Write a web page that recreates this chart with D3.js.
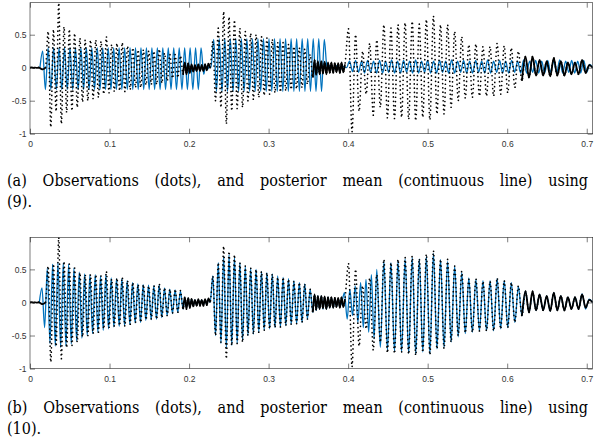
<!DOCTYPE html>
<html>
<head>
<meta charset="utf-8">
<script src="https://cdn.jsdelivr.net/npm/d3@7"></script>
<style>
  body { margin: 0; background: #fff; }
  svg { display: block; }
  .tick text { font-family: "Liberation Sans", Arial, sans-serif; font-size: 8.5px; fill: #333; }
  .tick line { stroke: #262626; stroke-width: 0.6; }
</style>
</head>
<body>
<svg id="chart" width="596" height="444"></svg>
<script>
/*
 * Observations (dots) and posterior mean (line), two panels.
 * Each series is stored as segments of alternating extrema; the values
 * of a segment are spread evenly between its start and end time.
 */

var xTicks = [0, 0.1, 0.2, 0.3, 0.4, 0.5, 0.6, 0.7];
var yTicks = [-1, -0.5, 0, 0.5];
var xDomain = [0, 0.7075];
var yDomain = [-1, 0.985];

// observations, shared by both panels
var obsStart = [0, 0.0195, 0.1925, 0.2265, 0.3556, 0.396, 0.6185];
var obsEnd = [0.0195, 0.1925, 0.2265, 0.3556, 0.396, 0.6185, 0.7075];
var obsDense = [1, 0, 1, 0, 1, 0, 1];

var obsSilence = [0, 0.004, -0.003, 0.002, -0.004, 0.003, -0.01, -0.025, -0.02, 0];
var obsVoiced1 = [0, 0.55, -0.9, 0.58, -0.66, 0.98, -0.85, 0.62, -0.68, 0.58, -0.65, 0.52, -0.6,
	0.45, -0.52, 0.42, -0.5, 0.42, -0.47, 0.42, -0.45, 0.4, -0.4, 0.47, -0.38, 0.35, -0.36,
	0.37, -0.35, 0.38, -0.36, 0.33, -0.33, 0.3, -0.3, 0.27, -0.3, 0.27, -0.26, 0.25, -0.25,
	0.25, -0.25, 0.28, -0.23, 0.22, -0.2, 0.2, -0.16, 0.2, -0.15, 0.18, -0.1];
var obsGap1 = [-0.1, 0.08, -0.1, 0.07, -0.08, 0.05, -0.06, 0.04, -0.05, 0.05, -0.05, 0.04, -0.05,
	0.05, -0.04, 0.06, 0];
var obsVoiced2 = [0, 0.4, -0.5, 0.6, -0.6, 0.85, -0.85, 0.77, -0.65, 0.72, -0.62, 0.6, -0.6, 0.55,
	-0.5, 0.52, -0.48, 0.5, -0.45, 0.47, -0.42, 0.45, -0.4, 0.43, -0.38, 0.38, -0.37, 0.38,
	-0.35, 0.35, -0.33, 0.32, -0.32, 0.3, -0.3, 0.28, -0.25, 0.2, -0.15];
var obsGap2 = [-0.15, 0.12, -0.11, 0.1, -0.1, 0.1, -0.09, 0.09, -0.1, 0.08, -0.08, 0.08, -0.08,
	0.07, -0.07, 0.07, -0.08, 0.08, -0.07, 0.05];
var obsVoiced3 = [0.05, 0.59, -0.97, 0.5, -0.66, 0.25, -0.4, 0.37, -0.72, 0.42, -0.6, 0.65, -0.76,
	0.6, -0.77, 0.65, -0.75, 0.68, -0.78, 0.7, -0.8, 0.66, -0.75, 0.73, -0.79, 0.78, -0.7,
	0.65, -0.7, 0.65, -0.6, 0.55, -0.5, 0.47, -0.46, 0.35, -0.45, 0.36, -0.43, 0.32, -0.43,
	0.32, -0.43, 0.37, -0.4, 0.33, -0.38, 0.3, -0.3, 0.25, -0.2];
var obsTail = [-0.2, 0.17, -0.15, 0.17, -0.12, 0.12, -0.12, 0.1, -0.13, 0.15, -0.12, 0.1, -0.12,
	0.08, -0.1, 0.08, -0.1, 0.12, -0.08, 0.04, 0];
var obsValues = [obsSilence, obsVoiced1, obsGap1, obsVoiced2, obsGap2, obsVoiced3, obsTail];

// posterior mean, panel (a)
var meanAStart = [0.0125, 0.2185, 0.2275, 0.3735, 0.398];
var meanAEnd = [0.2185, 0.2275, 0.3735, 0.398, 0.7075];
var meanA1 = [0, 0.25, -0.33,
	0.3, -0.33, 0.3, -0.33, 0.3, -0.33, 0.3, -0.33, 0.3, -0.33, 0.3, -0.33,
	0.3, -0.33, 0.3, -0.33, 0.3, -0.33, 0.3, -0.33, 0.3, -0.33,
	0.3, -0.33, 0.3, -0.33, 0.3, -0.33, 0.3, -0.33, 0.3, -0.33,
	0.3, -0.33, 0.3, -0.33, 0.3, -0.33, 0.3, -0.33, 0.3, -0.33,
	0.3, -0.33, 0.3, -0.33, 0.3, -0.33, 0.3, -0.33, 0.3, -0.33,
	0.3, -0.33, 0.3, -0.33, 0.3, -0.1];
var meanA2 = [-0.1, 0.03, -0.03, 0.02, 0];
var meanA3 = [0, 0.43, -0.36, 0.44, -0.36, 0.44, -0.36, 0.44, -0.36, 0.44, -0.36,
	0.44, -0.36, 0.44, -0.36, 0.44, -0.36, 0.44, -0.36, 0.44, -0.36,
	0.44, -0.36, 0.44, -0.36, 0.44, -0.36, 0.44, -0.36, 0.44, -0.36,
	0.44, -0.36, 0.44, -0.36, 0.44, -0.36, 0.44, -0.36, 0.44, -0.36,
	0.43, 0];
var meanA4 = [0, 0.03, -0.03, 0.03, -0.03, 0.02, 0];
var meanA5 = [0, 0.1, -0.06, 0.11, -0.07, 0.1, -0.08, 0.11, -0.07, 0.1, -0.08,
	0.11, -0.08, 0.1, -0.07, 0.12, -0.08, 0.1, -0.08, 0.11, -0.07,
	0.1, -0.08, 0.12, -0.08, 0.1, -0.07, 0.11, -0.08, 0.1, -0.08,
	0.11, -0.07, 0.1, -0.08, 0.12, -0.08, 0.1, -0.07, 0.11, -0.08,
	0.1, -0.08, 0.11, -0.07, 0.1, -0.08, 0.12, -0.08, 0.1, -0.07,
	0.11, -0.08, 0.1, -0.08, 0.11, -0.07, 0.1, -0.08, 0.12, -0.08,
	0.1, -0.07, 0.11, -0.08, 0.1, -0.08, 0.11, -0.07, 0.1, -0.08,
	0.12, -0.08, 0.1, -0.07, 0.11, -0.08, 0.1, -0.08, 0.11, -0.07,
	0.05, 0];
var meanAValues = [meanA1, meanA2, meanA3, meanA4, meanA5];

// posterior mean, panel (b)
var meanBStart = [0.0117, 0.1925, 0.2265, 0.3556, 0.392, 0.4405];
var meanBEnd = [0.1925, 0.2265, 0.3556, 0.392, 0.436, 0.7075];
var meanB1 = [0, 0.22, -0.38,
	0.52, -0.62, 0.58, -0.66, 0.6, -0.68, 0.6, -0.66, 0.58, -0.63, 0.52, -0.58,
	0.46, -0.54, 0.43, -0.5, 0.42, -0.47, 0.42, -0.45, 0.4, -0.42,
	0.42, -0.4, 0.37, -0.37, 0.36, -0.36, 0.36, -0.35, 0.33, -0.33,
	0.3, -0.31, 0.28, -0.3, 0.27, -0.27, 0.26, -0.26, 0.25, -0.25,
	0.26, -0.23, 0.22, -0.2, 0.2, -0.17, 0.19, -0.15, 0.17, -0.1];
var meanB2 = [-0.1, 0.06, -0.08, 0.06, -0.07, 0.05, -0.05, 0.04, -0.04, 0.04, -0.04, 0.04, -0.04,
	0.04, -0.03, 0.05, 0];
var meanB3 = [0, 0.4, -0.5, 0.6, -0.62, 0.7, -0.68, 0.72, -0.65, 0.68, -0.62, 0.6, -0.58, 0.55,
	-0.5, 0.52, -0.48, 0.5, -0.45, 0.47, -0.42, 0.45, -0.4, 0.43, -0.38, 0.4, -0.37, 0.38,
	-0.35, 0.36, -0.33, 0.33, -0.32, 0.3, -0.3, 0.28, -0.25, 0.2, -0.15];
var meanB4 = [-0.15, 0.12, -0.12, 0.1, -0.1, 0.1, -0.1, 0.08, -0.1, 0.08, -0.08, 0.07, -0.08,
	0.06, -0.06, 0.05, -0.05, 0];
var meanB5 = [0, 0.15, -0.25, 0.2, -0.2, 0.25, -0.3, 0.3, -0.38, 0.35, -0.45, 0.42, -0.55, 0.5];
var meanB6 = [-0.68, 0.62, -0.72, 0.6, -0.74, 0.63, -0.75, 0.66, -0.77, 0.68,
	-0.78, 0.66, -0.75, 0.7, -0.78, 0.74, -0.7, 0.65, -0.68, 0.62,
	-0.6, 0.55, -0.52, 0.45, -0.47, 0.37, -0.45, 0.35, -0.43, 0.33,
	-0.43, 0.33, -0.43, 0.36, -0.4, 0.33, -0.38, 0.3, -0.3, 0.24,
	-0.2,
	0.17, -0.15, 0.15, -0.12, 0.12, -0.12, 0.1, -0.13, 0.15, -0.12,
	0.1, -0.12, 0.08, -0.1, 0.08, -0.1, 0.13, -0.1, 0.05, 0];
var meanBValues = [meanB1, meanB2, meanB3, meanB4, meanB5, meanB6];

var captionA = ["(a) Observations (dots), and posterior mean (continuous line) using", "(9)."];
var captionB = ["(b) Observations (dots), and posterior mean (continuous line) using", "(10)."];

var serif = "'DejaVu Serif Condensed', 'DejaVu Serif', serif";

var svg = d3.select("#chart");

/* Spread the values of one segment evenly between its start and end time */
function segmentPoints(start, end, values) {
	var step = (end - start) / (values.length - 1);
	return values.map(function(v, i) { return [start + i * step, v]; });
}

/* Join all segments of a series into one list of points */
function seriesPoints(starts, ends, valueLists) {
	var pts = [];
	for (var k = 0; k < valueLists.length; k++) {
		segmentPoints(starts[k], ends[k], valueLists[k]).forEach(function(p) {
			if (pts.length && Math.abs(pts[pts.length - 1][0] - p[0]) < 1e-9) return;
			pts.push(p);
		});
	}
	return pts;
}

/* Draws one panel: box, ticks, mean line, observation dots and caption */
function drawPanel(id, top, bottom, meanStart, meanEnd, meanValues, caption, capY) {
	var x = d3.scaleLinear().domain(xDomain).range([30, 592.7]);
	var y = d3.scaleLinear().domain(yDomain).range([bottom, top]);
	var fmt = function(d) { return String(d); };

	var g = svg.append("g").attr("class", "panel " + id);

	g.append("clipPath")
		.attr("id", "clip-" + id)
		.append("rect")
		.attr("x", x.range()[0])
		.attr("y", top)
		.attr("width", x.range()[1] - x.range()[0])
		.attr("height", bottom - top);

	var line = d3.line()
		.x(function(d) { return x(d[0]); })
		.y(function(d) { return y(d[1]); })
		.curve(d3.curveMonotoneX);

	var plot = g.append("g").attr("clip-path", "url(#clip-" + id + ")");

	// posterior mean underneath
	plot.append("path")
		.datum(seriesPoints(meanStart, meanEnd, meanValues))
		.attr("d", line)
		.attr("fill", "none")
		.attr("stroke", "#0072BD")
		.attr("stroke-width", 1.3);

	// observations as a dotted trace
	plot.append("path")
		.datum(seriesPoints(obsStart, obsEnd, obsValues))
		.attr("d", line)
		.attr("fill", "none")
		.attr("stroke", "#000")
		.attr("stroke-width", 1.7)
		.attr("stroke-linecap", "round")
		.attr("stroke-dasharray", "0 4.3");

	// where the samples merge into a continuous band
	obsValues.forEach(function(vals, k) {
		if (!obsDense[k]) return;
		plot.append("path")
			.datum(segmentPoints(obsStart[k], obsEnd[k], vals))
			.attr("d", line)
			.attr("fill", "none")
			.attr("stroke", "#000")
			.attr("stroke-width", 1.8);
	});

	// axes with inward ticks on all four sides
	g.append("g")
		.attr("transform", "translate(0," + bottom + ")")
		.call(d3.axisBottom(x).tickValues(xTicks).tickSizeInner(-5).tickSizeOuter(0)
			.tickPadding(7).tickFormat(fmt));
	g.append("g")
		.attr("transform", "translate(0," + top + ")")
		.call(d3.axisTop(x).tickValues(xTicks).tickSizeInner(-5).tickSizeOuter(0).tickFormat(""));
	g.append("g")
		.attr("transform", "translate(" + x.range()[0] + ",0)")
		.call(d3.axisLeft(y).tickValues(yTicks).tickSizeInner(-5).tickSizeOuter(0)
			.tickPadding(3.5).tickFormat(fmt));
	g.append("g")
		.attr("transform", "translate(" + x.range()[1] + ",0)")
		.call(d3.axisRight(y).tickValues(yTicks).tickSizeInner(-5).tickSizeOuter(0).tickFormat(""));
	g.selectAll(".domain").remove();

	g.append("rect")
		.attr("x", x.range()[0])
		.attr("y", top)
		.attr("width", x.range()[1] - x.range()[0])
		.attr("height", bottom - top)
		.attr("fill", "none")
		.attr("stroke", "#262626")
		.attr("stroke-width", 0.6);

	// caption, first line justified to the column width
	var first = g.append("text")
		.attr("x", 7)
		.attr("y", capY[0])
		.attr("font-family", serif)
		.attr("font-size", 16)
		.attr("fill", "#000")
		.text(caption[0]);
	var natural = first.node().getComputedTextLength();
	var gaps = caption[0].split(" ").length - 1;
	first.attr("word-spacing", ((588 - 7 - natural) / gaps) + "px");

	g.append("text")
		.attr("x", 7)
		.attr("y", capY[1])
		.attr("font-family", serif)
		.attr("font-size", 16)
		.attr("fill", "#000")
		.text(caption[1]);
}

drawPanel("a", 2.7, 133.7, meanAStart, meanAEnd, meanAValues, captionA, [186, 207]);
drawPanel("b", 237.3, 368.6, meanBStart, meanBEnd, meanBValues, captionB, [413, 434]);
</script>
</body>
</html>
